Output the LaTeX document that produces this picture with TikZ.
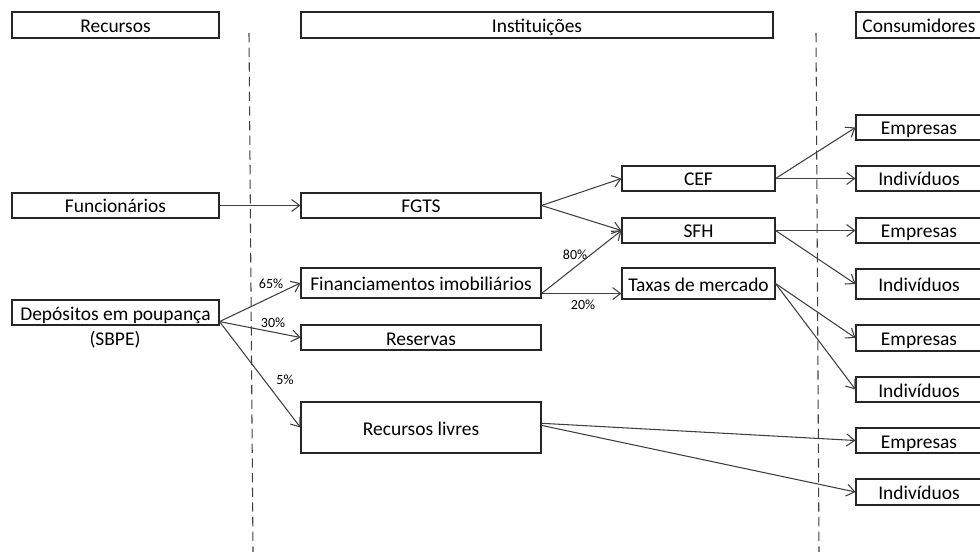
\documentclass[tikz,border=0pt]{standalone}
\usepackage{fontspec}
\setmainfont{Carlito}
\usetikzlibrary{arrows.meta}

\begin{document}
\begin{tikzpicture}[x=0.75pt,y=-0.75pt,font=\fontsize{14.6}{17}\selectfont]

\useasboundingbox (0,0) rectangle (980,552);
\clip (0,0) rectangle (980,552);

\draw[black!75,line width=0.8pt,dash pattern=on 7pt off 4pt] (249,33) -- (253,552);
\draw[black!75,line width=0.8pt,dash pattern=on 7pt off 4pt] (816,33) -- (819,552);

\begin{scope}[every node/.style={draw=black!85,line width=0.8pt,inner sep=0pt,text height=11pt,text depth=0pt,minimum height=19.5pt}]
	\node[minimum width=155.25pt] (hrec) at (115.5,25) {Recursos};
	\node[minimum width=354pt] (hinst) at (537,25) {Instituições};
	\node[minimum width=94.5pt] (hcons) at (919,25) {Consumidores};
\end{scope}

\begin{scope}[every node/.style={draw=black!85,line width=0.8pt,inner sep=0pt,text height=11.25pt,text depth=0pt,minimum height=18.75pt,minimum width=155.25pt}]
	\node (func) at (115.5,205.5) {Funcionários};
	\node (dep) at (115.5,312.5) {Depósitos em poupança};
\end{scope}

\begin{scope}[every node/.style={draw=black!85,line width=0.8pt,inner sep=0pt,text height=11.25pt,text depth=0pt,minimum height=18.75pt,minimum width=180pt}]
	\node (fgts) at (421,205.5) {FGTS};
	\node[minimum height=22.5pt] (fin) at (421,283) {Financiamentos imobiliários};
	\node (res) at (421,337.5) {Reservas};
	\node[minimum height=38.25pt] (liv) at (421,427.5) {Recursos livres};
\end{scope}

\begin{scope}[every node/.style={draw=black!85,line width=0.8pt,inner sep=0pt,text height=11.25pt,text depth=0pt,minimum height=18.75pt,minimum width=114.75pt}]
	\node (cef) at (698.5,178.5) {CEF};
	\node (sfh) at (698.5,230.5) {SFH};
	\node[minimum height=23.25pt] (tax) at (698.5,283.5) {Taxas de mercado};
\end{scope}

\begin{scope}[every node/.style={draw=black!85,line width=0.8pt,inner sep=0pt,text height=11.25pt,text depth=0pt,minimum height=18.75pt,minimum width=94.5pt}]
	\node (emp1) at (919,127.5) {Empresas};
	\node (ind1) at (919,178.5) {Indivíduos};
	\node (emp2) at (919,230.5) {Empresas};
	\node[minimum height=22.5pt] (ind2) at (919,284) {Indivíduos};
	\node[minimum height=19.5pt] (emp3) at (919,338) {Empresas};
	\node (ind3) at (919,389.5) {Indivíduos};
	\node (emp4) at (919,440.5) {Empresas};
	\node[minimum height=19.5pt] (ind4) at (919,492) {Indivíduos};
\end{scope}

\node (sbpe) at (115,340) {(SBPE)};

\begin{scope}[every node/.style={font=\fontsize{10.5}{12}\selectfont,inner sep=0pt}]
	\node (p65) at (271,284) {65\%};
	\node (p30) at (273,323) {30\%};
	\node (p5) at (285,380) {5\%};
	\node (p80) at (575,255) {80\%};
	\node (p20) at (583,305) {20\%};
\end{scope}

\begin{scope}[>={Straight Barb[length=6pt,width=9pt]}, every edge/.style={draw=black!75,line width=0.8pt}]
	\path [->] (func.east) edge (fgts.west);
	\path [->] (dep.-5) edge (fin.west);
	\path [->] (dep.-5) edge (res.west);
	\path [->] (dep.-5) edge (liv.west);
	\path [->] (fgts.east) edge (cef.west);
	\path [->] (fgts.east) edge (sfh.west);
	\path [->] (fin.-5) edge (sfh.west);
	\path [->] (fin.-5) edge (fin.-5 -| tax.west);
	\path [->] (cef.east) edge (emp1.west);
	\path [->] (cef.east) edge (ind1.west);
	\path [->] (sfh.east) edge (emp2.west);
	\path [->] (sfh.east) edge (ind2.west);
	\path [->] (tax.east) edge (emp3.west);
	\path [->] (tax.east) edge (ind3.west);
	\path [->] (liv.2) edge (emp4.west);
	\path [->] (liv.1) edge (ind4.west);
\end{scope}

\end{tikzpicture}
\end{document}
